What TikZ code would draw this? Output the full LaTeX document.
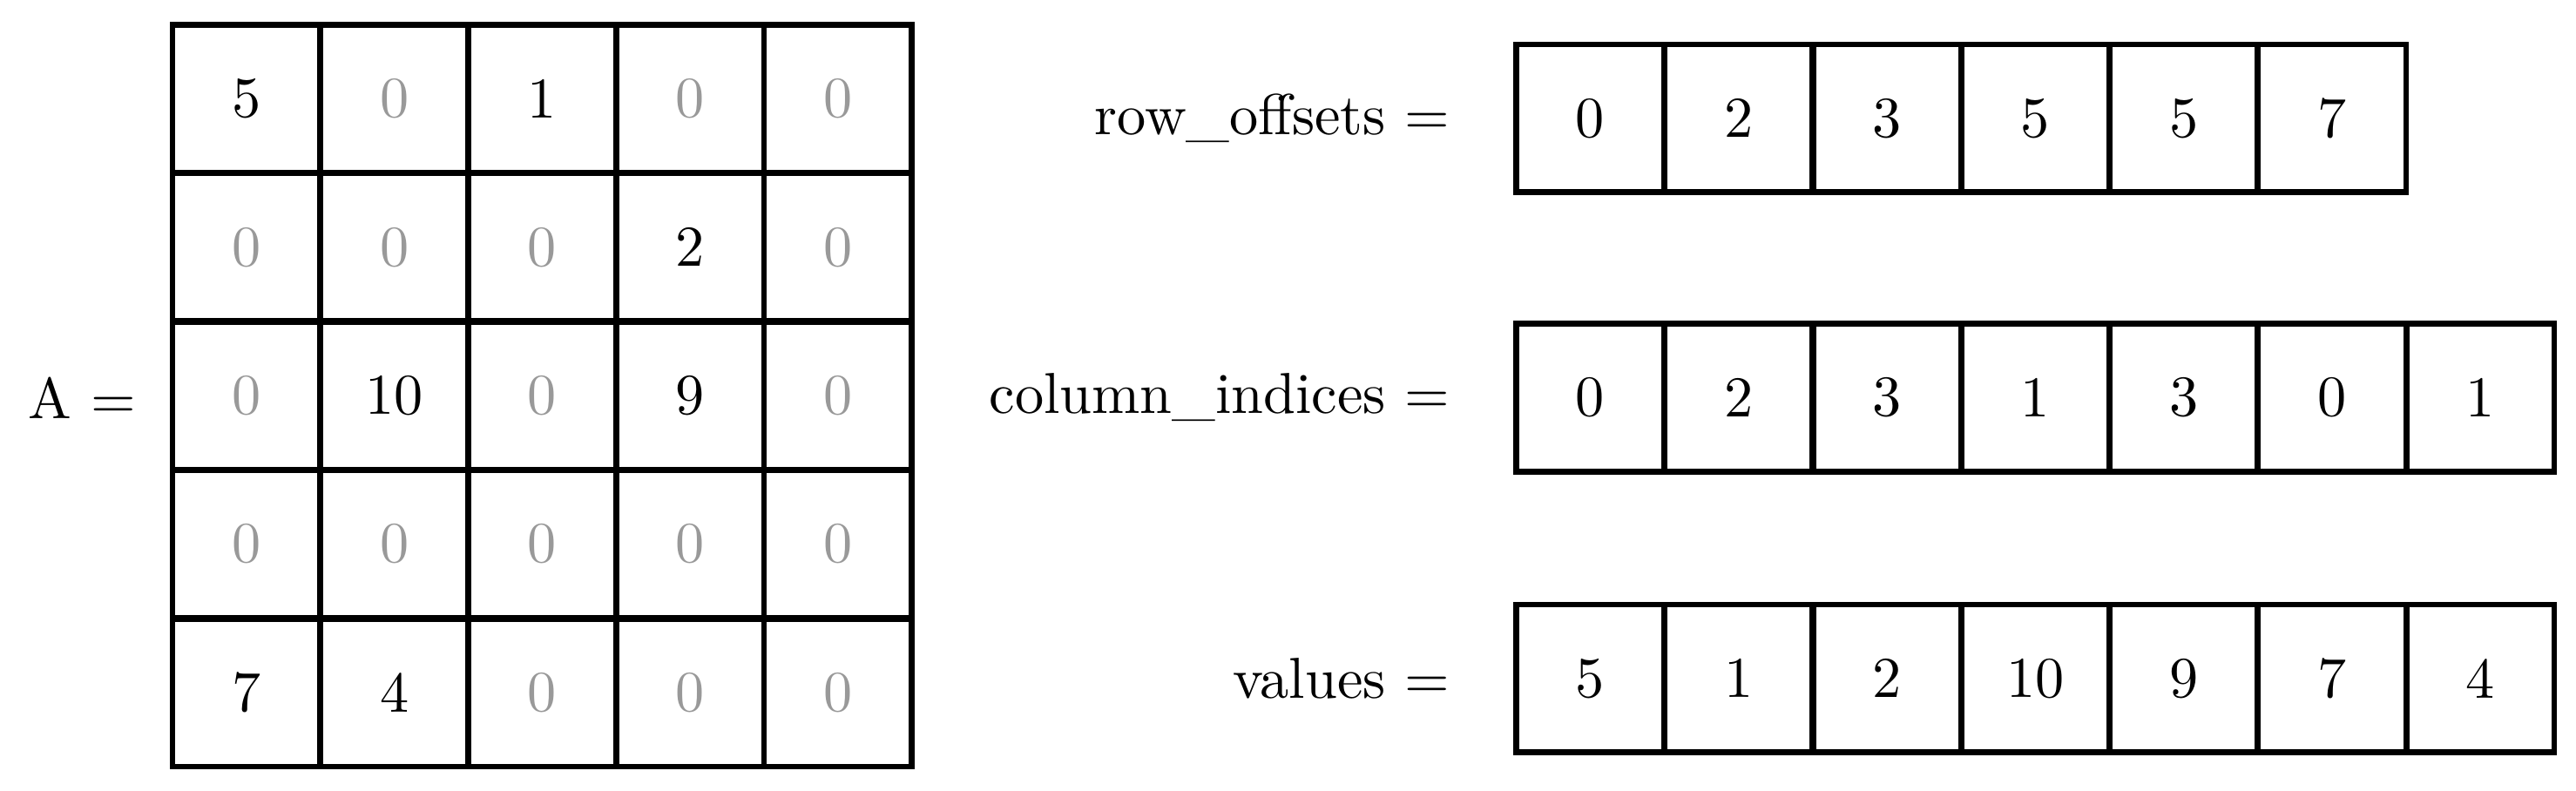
\documentclass[tikz,border=0pt]{standalone}
\usepackage{tikz}
\usetikzlibrary{positioning}
\tikzset{cell/.style={draw,line width=1pt,minimum width=0.9cm,minimum height=0.9cm,inner sep=0pt,font=\normalsize},
  zero/.style={text=black!40},
  lbl/.style={font=\normalsize,anchor=east}}

\begin{document}
\begin{tikzpicture}
  \useasboundingbox (0,0) rectangle (15.68,-4.81);
  % matrix A
  \node [font=\normalsize,anchor=west] (A) at (0.05,-2.42) {A =};
  \foreach \row [count=\i from 0] in {{5,0,1,0,0},{0,0,0,2,0},{0,10,0,9,0},{0,0,0,0,0},{7,4,0,0,0}} {
    \foreach \v [count=\j from 0] in \row {
      \ifnum\v=0
        \node [cell,zero] (a\i\j) at (1.5+0.9*\j,-0.6-0.904*\i) {\v};
      \else
        \node [cell] (a\i\j) at (1.5+0.9*\j,-0.6-0.904*\i) {\v};
      \fi
    }
  }
  % CSR arrays
  \node [lbl] (rowlbl) at (8.95,-0.72) {row\_offsets =};
  \foreach \v [count=\j from 0] in {0,2,3,5,5,7}
    \node [cell] (r\j) at (9.68+0.903*\j,-0.72) {\v};
  \node [lbl] (collbl) at (8.95,-2.42) {column\_indices =};
  \foreach \v [count=\j from 0] in {0,2,3,1,3,0,1}
    \node [cell] (c\j) at (9.68+0.903*\j,-2.42) {\v};
  \node [lbl] (vallbl) at (8.95,-4.13) {values =};
  \foreach \v [count=\j from 0] in {5,1,2,10,9,7,4}
    \node [cell] (v\j) at (9.68+0.903*\j,-4.13) {\v};
\end{tikzpicture}
\end{document}
